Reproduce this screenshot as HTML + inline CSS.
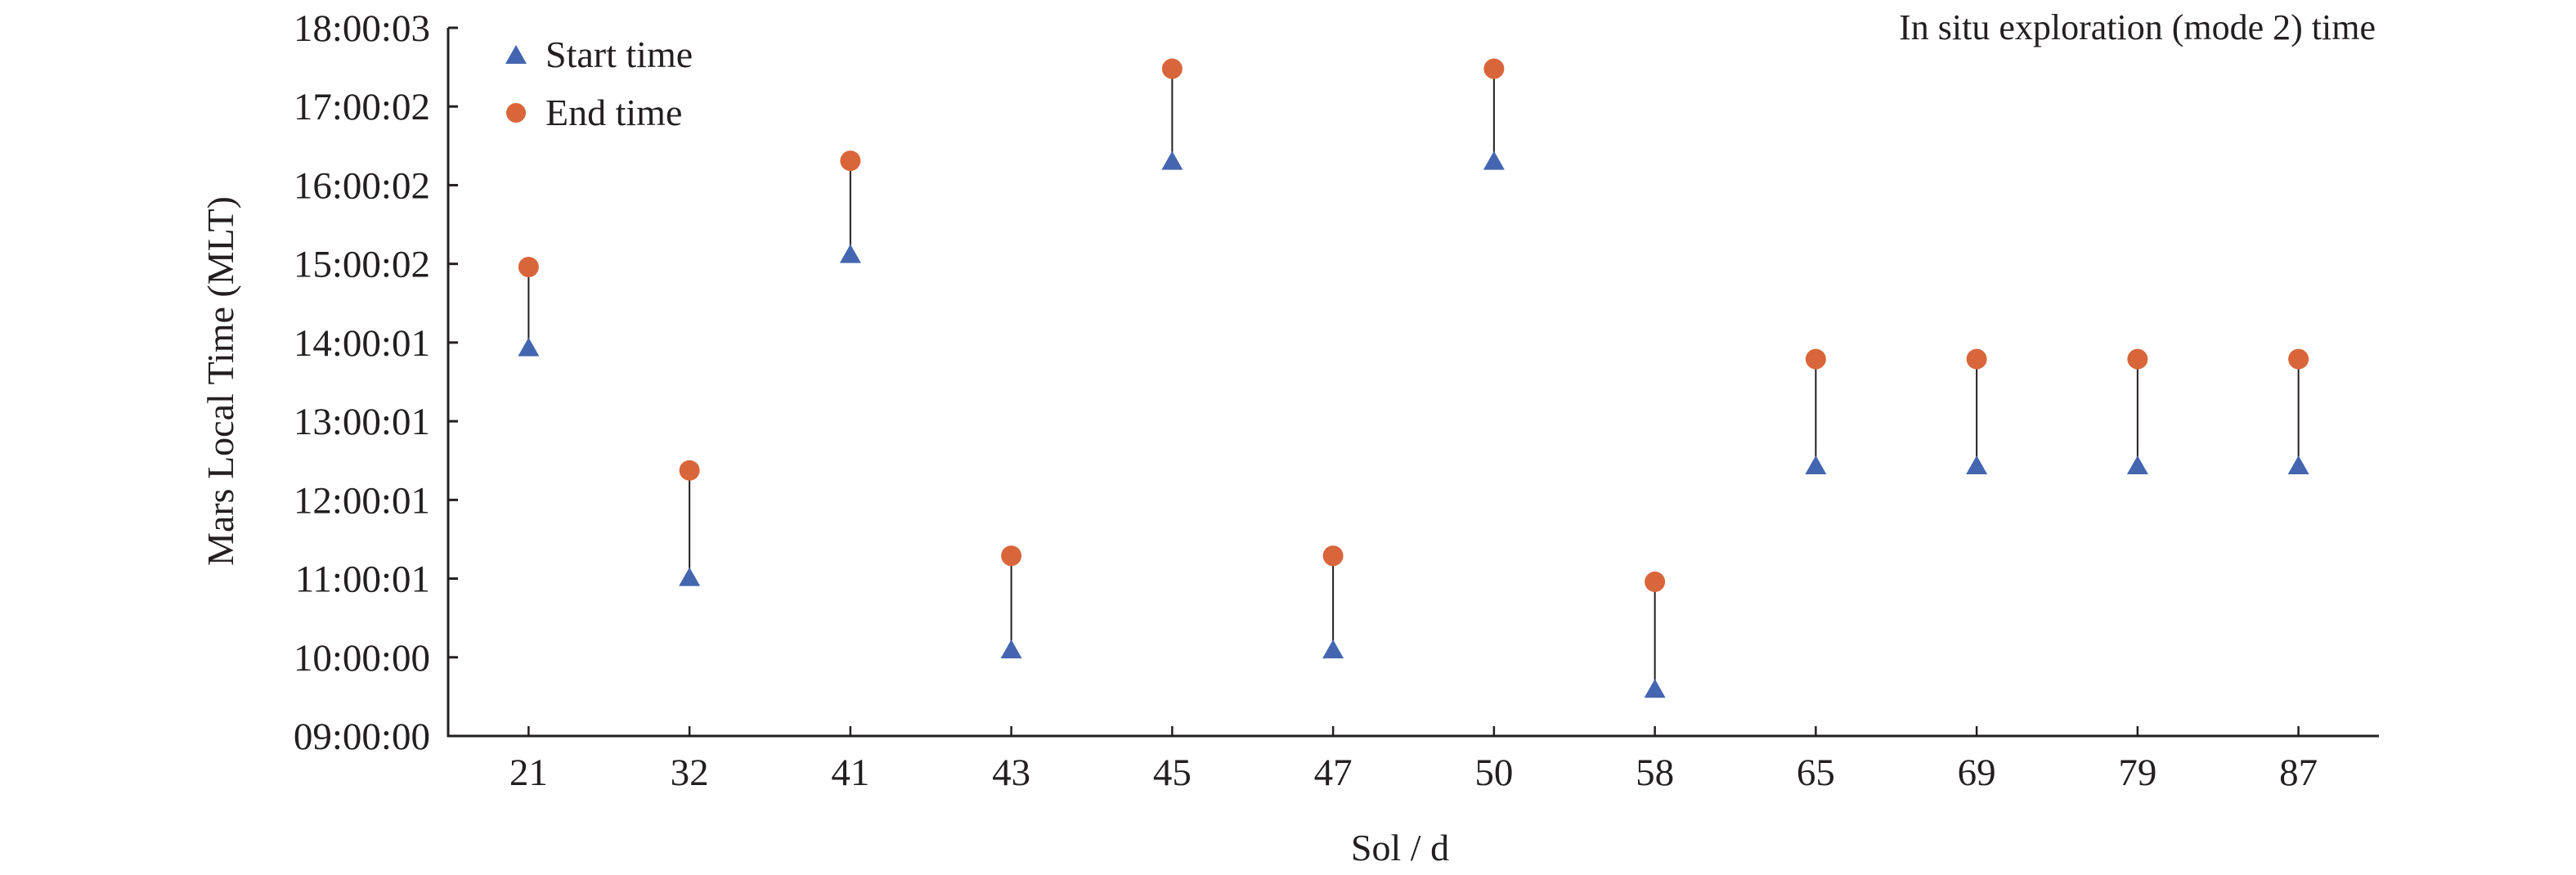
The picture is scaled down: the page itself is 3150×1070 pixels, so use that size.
<!DOCTYPE html>
<html><head><meta charset="utf-8"><style>
body{margin:0;background:#fff}
svg text{font-family:"Liberation Serif",serif;fill:#231f20}
</style></head><body>
<svg id="chart" width="3150" height="1065" xmlns="http://www.w3.org/2000/svg">
<g id="axes"></g><g id="marks"></g>
<text x="2905" y="48" font-size="44" text-anchor="end">In situ exploration (mode 2) time</text>
<text transform="translate(285,466) rotate(-90)" font-size="46" text-anchor="middle">Mars Local Time (MLT)</text>
<text x="1712" y="1052" font-size="46" text-anchor="middle">Sol / d</text>
<g>
<polygon points="618,78 644,78 631,55" fill="#4466b0"/>
<text x="667" y="82" font-size="46">Start time</text>
<circle cx="631" cy="138" r="12" fill="#d9663a"/>
<text x="667" y="153" font-size="46">End time</text>
</g>
</svg>
<script>
const categories=["21","32","41","43","45","47","50","58","65","69","79","87"];
const startHours=[13.94,11.02,15.125,10.10,16.31,10.10,16.31,9.60,12.44,12.44,12.44,12.44];
const endHours=[14.96,12.375,16.31,11.29,17.48,11.29,17.48,10.96,13.79,13.79,13.79,13.79];
const yTickValues=[9,10,11,12,13,14,15,16,17,18];
const yTickLabels=["09:00:00","10:00:00","11:00:01","12:00:01","13:00:01","14:00:01","15:00:02","16:00:02","17:00:02","18:00:03"];

const NS="http://www.w3.org/2000/svg";
const L=548,R=2909,T=34,B=900,yMin=9,yMax=18;
const band=(R-L)/categories.length;
function xs(i){return L+band*(i+0.5);}
function ys(v){return B-(v-yMin)/(yMax-yMin)*(B-T);}
function mk(tag,attrs,parent){const e=document.createElementNS(NS,tag);for(const k in attrs)e.setAttribute(k,attrs[k]);parent.appendChild(e);return e;}
const axes=document.getElementById('axes'),marks=document.getElementById('marks');
let e=mk('line',{x1:L,y1:T,x2:L,y2:B+1.5,stroke:'#231f20','stroke-width':3},axes);


e=mk('line',{x1:L-1.5,y1:B,x2:R,y2:B,stroke:'#231f20','stroke-width':3},axes);


yTickValues.forEach((v,i)=>{
 const y=ys(v);
 let t=mk('line',{x1:L,y1:y,x2:L+12,y2:y,stroke:'#231f20','stroke-width':3},axes);
 
 
 let tx=mk('text',{x:526,y:y+16,'font-size':47,'text-anchor':'end'},axes);
 tx.textContent=yTickLabels[i];
 
 
});
categories.forEach((c,i)=>{
 const x=xs(i);
 let t=mk('line',{x1:x,y1:B,x2:x,y2:B-12,stroke:'#231f20','stroke-width':2.5},axes);
 
 
 let tx=mk('text',{x:x,y:960,'font-size':47,'text-anchor':'middle'},axes);
 tx.textContent=c;
 
 
 const ys0=ys(startHours[i]),ye=ys(endHours[i]);
 let ln=mk('line',{x1:x,y1:ys0,x2:x,y2:ye,stroke:'#231f20','stroke-width':2},marks);
 
 
 let tri=mk('polygon',{points:`${x-13},${ys0+11} ${x+13},${ys0+11} ${x},${ys0-12}`,fill:'#4466b0'},marks);
 
 
 let c2=mk('circle',{cx:x,cy:ye,r:12.5,fill:'#d9663a'},marks);
 
 
});
</script>
</body></html>
